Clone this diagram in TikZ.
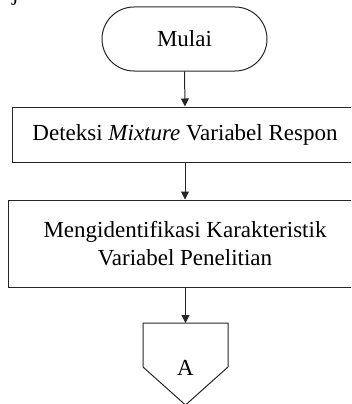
\documentclass[tikz,border=0pt]{standalone}
\usepackage{fontspec}
\setmainfont{Liberation Serif}
\usetikzlibrary{arrows.meta}
\begin{document}
\begin{tikzpicture}[x=1pt,y=1pt,
  every node/.style={font=\fontsize{23}{28}\selectfont, text=black},
  terminal/.style={draw=black!85, line width=1pt, rounded corners=32pt, minimum width=165pt, minimum height=64pt, inner sep=0pt},
  procbox/.style={draw=black!85, line width=1pt, inner sep=0pt, align=center},
  conn/.style={draw=black!85, line width=1pt, -{Triangle[width=8pt,length=8pt]}}
]
\useasboundingbox (0,0) rectangle (351,-404);
\clip (0,0) rectangle (351,-404);
\node[anchor=base west, inner sep=0pt] (frag) at (12,-1) {j};
\node[terminal] (start) at (184.5,-39) {Mulai};
\node[procbox, minimum width=346pt, minimum height=55pt] (b1) at (185,-134.5) {Deteksi \textit{Mixture} Variabel Respon};
\node[procbox, minimum width=354pt, minimum height=87pt] (b2) at (185,-243.5) {Mengidentifikasi Karakteristik\\Variabel Penelitian};
\coordinate (ptop) at (185.5,-323);
\node[inner sep=0pt] (pa) at (185.5,-368) {A};
\draw[draw=black!85, line width=1pt, line join=miter] (143,-323) -- (228,-323) -- (228,-367) -- (185.5,-405) -- (143,-367) -- cycle;
\draw[conn] (start.south) -- (b1.north);
\draw[conn] (b1.south) -- (b2.north);
\draw[conn] (b2.south -| ptop) -- (ptop);
\end{tikzpicture}
\end{document}
